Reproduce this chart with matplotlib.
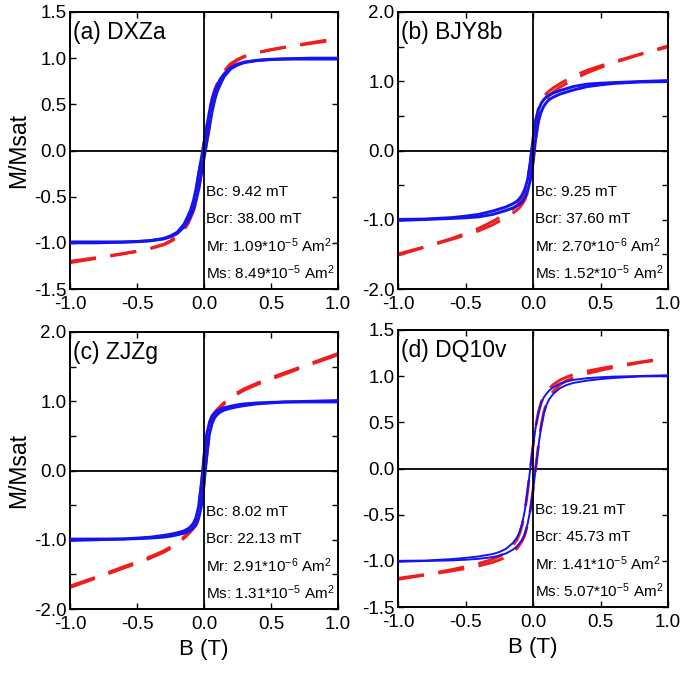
import numpy as np
import matplotlib
matplotlib.use('Agg')
from matplotlib import pyplot as plt
from matplotlib.ticker import MultipleLocator, FormatStrFormatter

plt.rcParams['font.family'] = ['Liberation Sans', 'DejaVu Sans']
plt.rcParams['mathtext.fontset'] = 'custom'
plt.rcParams['mathtext.rm'] = 'Liberation Sans'
plt.rcParams['mathtext.it'] = 'Liberation Sans:italic'
plt.rcParams['axes.unicode_minus'] = False

# field grid (T), shared by all panels
B = [-1.0, -0.8, -0.6, -0.5, -0.4, -0.3, -0.25, -0.2, -0.15, -0.12, -0.1, -0.08, -0.06, -0.04, -0.02,
     0.0, 0.02, 0.04, 0.06, 0.08, 0.1, 0.12, 0.15, 0.2, 0.25, 0.3, 0.4, 0.5, 0.6, 0.8, 1.0]

# (a) DXZa
a_blue_up = [-0.99, -0.99, -0.99, -0.985, -0.975, -0.952, -0.925, -0.885, -0.80, -0.71, -0.645, -0.55, -0.42, -0.25, -0.085,
             0.085, 0.25, 0.42, 0.55, 0.645, 0.71, 0.77, 0.83, 0.90, 0.935, 0.958, 0.978, 0.988, 0.993, 1.0, 1.0]
a_blue_dn = [-1.0, -1.0, -0.993, -0.988, -0.978, -0.958, -0.935, -0.90, -0.83, -0.77, -0.71, -0.645, -0.55, -0.42, -0.25,
             -0.085, 0.085, 0.25, 0.42, 0.55, 0.645, 0.71, 0.80, 0.885, 0.925, 0.952, 0.975, 0.985, 0.99, 0.99, 0.99]
a_red_up = [-1.20, -1.16, -1.115, -1.09, -1.06, -1.015, -0.977, -0.927, -0.832, -0.735, -0.666, -0.567, -0.433, -0.258, -0.089,
            0.085, 0.254, 0.428, 0.563, 0.662, 0.731, 0.795, 0.862, 0.942, 0.987, 1.021, 1.062, 1.093, 1.119, 1.168, 1.215]
a_red_dn = [-1.215, -1.168, -1.119, -1.093, -1.062, -1.021, -0.987, -0.942, -0.862, -0.795, -0.731, -0.662, -0.563, -0.428, -0.254,
            -0.085, 0.089, 0.258, 0.433, 0.567, 0.666, 0.735, 0.832, 0.927, 0.977, 1.015, 1.06, 1.09, 1.115, 1.16, 1.20]

# (b) BJY8b
b_blue_up = [-0.995, -0.99, -0.969, -0.948, -0.922, -0.875, -0.845, -0.815, -0.77, -0.735, -0.695, -0.64, -0.555, -0.42, -0.17,
             0.17, 0.43, 0.585, 0.68, 0.735, 0.775, 0.80, 0.83, 0.866, 0.895, 0.924, 0.958, 0.972, 0.981, 0.996, 1.01]
b_blue_dn = [-1.01, -0.996, -0.981, -0.972, -0.958, -0.924, -0.895, -0.866, -0.83, -0.80, -0.775, -0.735, -0.68, -0.585, -0.43,
             -0.17, 0.17, 0.42, 0.555, 0.64, 0.695, 0.735, 0.77, 0.815, 0.845, 0.875, 0.922, 0.948, 0.969, 0.99, 0.995]
b_red_up = [-1.495, -1.39, -1.269, -1.198, -1.122, -1.025, -0.97, -0.915, -0.845, -0.795, -0.745, -0.68, -0.585, -0.44, -0.18,
            0.17, 0.44, 0.605, 0.71, 0.775, 0.825, 0.86, 0.905, 0.966, 1.02, 1.074, 1.158, 1.222, 1.281, 1.396, 1.51]
b_red_dn = [-1.51, -1.396, -1.281, -1.222, -1.158, -1.074, -1.02, -0.966, -0.905, -0.86, -0.825, -0.775, -0.71, -0.605, -0.44,
            -0.17, 0.18, 0.44, 0.585, 0.68, 0.745, 0.795, 0.845, 0.915, 0.97, 1.025, 1.122, 1.198, 1.269, 1.39, 1.495]

# (c) ZJZg
c_blue_up = [-0.99, -0.99, -0.989, -0.976, -0.963, -0.937, -0.921, -0.90, -0.872, -0.843, -0.81, -0.765, -0.68, -0.52, -0.20,
             0.20, 0.52, 0.69, 0.785, 0.83, 0.863, 0.883, 0.905, 0.929, 0.948, 0.962, 0.976, 0.984, 0.99, 1.0, 1.01]
c_blue_dn = [-1.01, -1.0, -0.99, -0.984, -0.976, -0.962, -0.948, -0.929, -0.905, -0.883, -0.863, -0.83, -0.785, -0.69, -0.52,
             -0.20, 0.20, 0.52, 0.68, 0.765, 0.81, 0.843, 0.872, 0.90, 0.921, 0.937, 0.963, 0.976, 0.989, 0.99, 0.99]
c_red_up = [-1.67, -1.535, -1.39, -1.32, -1.245, -1.16, -1.105, -1.04, -0.96, -0.905, -0.865, -0.82, -0.72, -0.54, -0.20,
            0.20, 0.52, 0.69, 0.79, 0.84, 0.885, 0.925, 0.98, 1.06, 1.125, 1.18, 1.265, 1.34, 1.41, 1.55, 1.69]
c_red_dn = [-1.69, -1.55, -1.41, -1.34, -1.265, -1.18, -1.125, -1.06, -0.98, -0.925, -0.885, -0.84, -0.79, -0.69, -0.52,
            -0.20, 0.20, 0.54, 0.72, 0.82, 0.865, 0.905, 0.96, 1.04, 1.105, 1.16, 1.245, 1.32, 1.39, 1.535, 1.67]

# (d) DQ10v
d_blue_up = [-1.0, -0.997, -0.981, -0.968, -0.952, -0.927, -0.905, -0.87, -0.808, -0.75, -0.69, -0.595, -0.45, -0.24, 0.0,
             0.24, 0.45, 0.60, 0.705, 0.77, 0.81, 0.845, 0.88, 0.92, 0.943, 0.96, 0.978, 0.988, 0.995, 1.002, 1.01]
d_blue_dn = [-1.01, -1.002, -0.995, -0.988, -0.978, -0.96, -0.943, -0.92, -0.88, -0.845, -0.81, -0.77, -0.705, -0.60, -0.45,
             -0.24, 0.0, 0.24, 0.45, 0.595, 0.69, 0.75, 0.808, 0.87, 0.905, 0.927, 0.952, 0.968, 0.981, 0.997, 1.0]
d_red_up = [-1.19, -1.149, -1.095, -1.063, -1.028, -0.984, -0.953, -0.908, -0.837, -0.773, -0.709, -0.61, -0.461, -0.248, -0.004,
            0.24, 0.454, 0.608, 0.716, 0.785, 0.829, 0.868, 0.909, 0.958, 0.991, 1.017, 1.054, 1.083, 1.109, 1.154, 1.20]
d_red_dn = [-1.20, -1.154, -1.109, -1.083, -1.054, -1.017, -0.991, -0.958, -0.909, -0.868, -0.829, -0.785, -0.716, -0.608, -0.454,
            -0.24, 0.004, 0.248, 0.461, 0.61, 0.709, 0.773, 0.837, 0.908, 0.953, 0.984, 1.028, 1.063, 1.095, 1.149, 1.19]

titles = ['(a) DXZa', '(b) BJY8b', '(c) ZJZg', '(d) DQ10v']
params = [
    ['Bc: 9.42 mT', 'Bcr: 38.00 mT', r'Mr: 1.09*10$^{-5}$ Am$^{2}$', r'Ms: 8.49*10$^{-5}$ Am$^{2}$'],
    ['Bc: 9.25 mT', 'Bcr: 37.60 mT', r'Mr: 2.70*10$^{-6}$ Am$^{2}$', r'Ms: 1.52*10$^{-5}$ Am$^{2}$'],
    ['Bc: 8.02 mT', 'Bcr: 22.13 mT', r'Mr: 2.91*10$^{-6}$ Am$^{2}$', r'Ms: 1.31*10$^{-5}$ Am$^{2}$'],
    ['Bc: 19.21 mT', 'Bcr: 45.73 mT', r'Mr: 1.41*10$^{-5}$ Am$^{2}$', r'Ms: 5.07*10$^{-5}$ Am$^{2}$'],
]
blue_up = [a_blue_up, b_blue_up, c_blue_up, d_blue_up]
blue_dn = [a_blue_dn, b_blue_dn, c_blue_dn, d_blue_dn]
red_up = [a_red_up, b_red_up, c_red_up, d_red_up]
red_dn = [a_red_dn, b_red_dn, c_red_dn, d_red_dn]
ylims = [1.5, 2.0, 2.0, 1.5]

# axes boxes in figure pixels: left, top, right, bottom
W, H = 681, 673
boxes = [(70, 12, 338, 289), (398, 12, 668, 289), (70, 332, 338, 609), (398, 330, 668, 607)]

BLUE = '#1414f0'
RED = '#ee1e1e'

fig = plt.figure(figsize=(W / 100, H / 100), dpi=100)

for i in range(4):
    l, t, r, b = boxes[i]
    ax = fig.add_axes([l / W, 1 - b / H, (r - l) / W, (b - t) / H])
    blw = 1.4 if i == 3 else 2.1

    ax.plot(B, red_up[i], color=RED, lw=2.1, dashes=(9, 5), zorder=2)
    ax.plot(B, red_dn[i], color=RED, lw=2.1, dashes=(9, 5), zorder=2)
    ax.plot(B, blue_up[i], color=BLUE, lw=blw, zorder=3)
    ax.plot(B, blue_dn[i], color=BLUE, lw=blw, zorder=3)

    ax.axhline(0, color='black', lw=1.3, zorder=1)
    ax.axvline(0, color='black', lw=1.3, zorder=4)

    ym = ylims[i]
    ax.set_xlim(-1, 1)
    ax.set_ylim(-ym, ym)
    ax.xaxis.set_major_locator(MultipleLocator(0.5))
    ax.xaxis.set_major_formatter(FormatStrFormatter('%.1f'))
    if ym == 2.0:
        ax.yaxis.set_major_locator(MultipleLocator(1.0))
        ax.yaxis.set_minor_locator(MultipleLocator(0.5))
    else:
        ax.yaxis.set_major_locator(MultipleLocator(0.5))
    ax.yaxis.set_major_formatter(FormatStrFormatter('%.1f'))
    ax.tick_params(which='both', direction='in', top=True, right=True, length=4, width=1.0,
                   labelsize=13.5)
    ax.tick_params(axis='x', pad=5)
    ax.tick_params(axis='y', pad=2.5)
    for sp in ax.spines.values():
        sp.set_linewidth(1.4)

    ax.text(0.012, 0.925, titles[i], transform=ax.transAxes, fontsize=16.5, va='center', ha='left')
    for k, s in enumerate(params[i]):
        ax.text(0.507, 0.35 - 0.097 * k, s, transform=ax.transAxes, fontsize=11,
                va='center', ha='left', zorder=5)

    if i % 2 == 0:
        ax.set_ylabel('M/Msat', fontsize=16.5)
        ax.yaxis.set_label_coords(-0.15, 0.5)
    if i >= 2:
        ax.set_xlabel('B (T)', fontsize=16)
        ax.xaxis.set_label_coords(0.5, -0.11)

fig.savefig('out.png', dpi=100)
